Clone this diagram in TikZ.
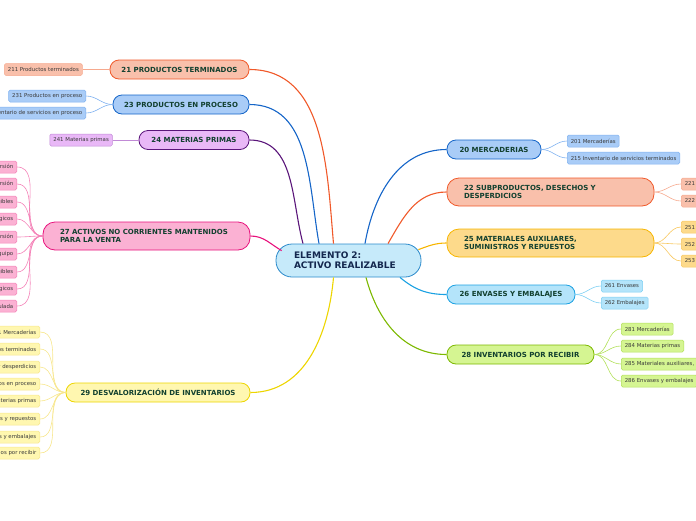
\documentclass[tikz,border=0pt]{standalone}
\usepackage{fontspec}
\setmainfont{DejaVu Sans}
\usepackage{tikz}
\usetikzlibrary{positioning}
\definecolor{centroB}{HTML}{2B8ACB}
\definecolor{centroF}{HTML}{C6EAFA}
\definecolor{naranja}{HTML}{F0592A}
\definecolor{naranjaF}{HTML}{F9C0AB}
\definecolor{naranjaL}{HTML}{F6A98E}
\definecolor{azul}{HTML}{1565C8}
\definecolor{azulF}{HTML}{A9CCF7}
\definecolor{azulL}{HTML}{80B2F0}
\definecolor{morado}{HTML}{5A157A}
\definecolor{moradoF}{HTML}{E9B8F7}
\definecolor{moradoL}{HTML}{C18AD6}
\definecolor{rosa}{HTML}{E8127C}
\definecolor{rosaF}{HTML}{FBB1D3}
\definecolor{rosaL}{HTML}{F483B8}
\definecolor{amarillo}{HTML}{EDD500}
\definecolor{amarilloF}{HTML}{FFF7B0}
\definecolor{amarilloL}{HTML}{F7E68C}
\definecolor{ambar}{HTML}{F7B500}
\definecolor{ambarF}{HTML}{FDDA8B}
\definecolor{ambarL}{HTML}{F8C860}
\definecolor{celeste}{HTML}{1BA1E2}
\definecolor{celesteF}{HTML}{B4E4FA}
\definecolor{celesteL}{HTML}{7CCFF3}
\definecolor{verde}{HTML}{7CB800}
\definecolor{verdeF}{HTML}{D5F592}
\definecolor{verdeL}{HTML}{B2E05A}
\definecolor{textoTema}{HTML}{12402F}
\definecolor{textoCentro}{HTML}{14284F}
\definecolor{textoSub}{HTML}{3A3A3A}

\begin{document}
\begin{tikzpicture}[
  x=1pt, y=1pt,
  central/.style={rectangle, rounded corners=16pt, draw=centroB, fill=centroF, line width=0.8pt, text width=109pt, inner xsep=18pt, minimum height=33pt, align=left, text=textoCentro, font=\fontsize{9}{10}\selectfont\bfseries},
  tema/.style={rectangle, rounded corners=9pt, draw=#1, fill=#1F, line width=0.8pt, minimum height=19pt, inner sep=1pt, text=textoTema, font=\fontsize{7}{8}\selectfont\bfseries},
  tema2/.style={tema=#1, rounded corners=12pt, minimum height=28pt, text width=173pt, inner xsep=17pt, align=left},
  subtema/.style={rectangle, rounded corners=1.5pt, draw=#1L, fill=#1F, line width=0.5pt, minimum height=12pt, inner xsep=3.5pt, inner ysep=0pt, text=textoSub, font=\fontsize{5.4}{6}\selectfont},
  rama/.style={draw=#1, line width=1.1pt},
  ramita/.style={draw=#1L, line width=0.6pt}
]
\useasboundingbox (0,0) rectangle (696,-520);
\clip (0,0) rectangle (696,-520);
% centro
\node[central] (centro) at (348.5,-260.5) {ELEMENTO 2:\\ACTIVO REALIZABLE};
% temas de la izquierda
\node[tema=naranja, minimum width=139pt] (t21) at (179.5,-69.5) {21 PRODUCTOS TERMINADOS};
\node[tema=azul, minimum width=136pt] (t23) at (181,-104.5) {23 PRODUCTOS EN PROCESO};
\node[tema=morado, minimum width=110pt] (t24) at (194,-140) {24 MATERIAS PRIMAS};
\node[tema2=rosa] (t27) at (146.5,-236) {27 ACTIVOS NO CORRIENTES MANTENIDOS\\PARA LA VENTA};
\node[tema=amarillo, minimum width=184pt] (t29) at (158,-392.5) {29 DESVALORIZACIÓN DE INVENTARIOS};
% temas de la derecha
\node[tema=azul, minimum width=94pt] (t20) at (494,-149.5) {20 MERCADERIAS};
\node[tema2=naranja] (t22) at (550.5,-192) {22 SUBPRODUCTOS, DESECHOS Y\\DESPERDICIOS};
\node[tema2=ambar] (t25) at (550.5,-243) {25 MATERIALES AUXILIARES,\\SUMINISTROS Y REPUESTOS};
\node[tema=celeste, minimum width=128pt] (t26) at (511,-294.5) {26 ENVASES Y EMBALAJES};
\node[tema=verde, minimum width=147pt] (t28) at (520.5,-354.5) {28 INVENTARIOS POR RECIBIR};
% subcuentas
\node[subtema=naranja, left=27pt of t21] (s211) {211 Productos terminados};
\node[subtema=azul, anchor=east] (s231) at (86,-96) {231 Productos en proceso};
\node[subtema=azul, anchor=east] (s234) at (86,-113) {234 Inventario de servicios en proceso};
\node[subtema=morado, left=26pt of t24] (s241) {241 Materias primas};
\node[subtema=rosa, anchor=east] (s271) at (17,-167) {271 Propiedades de inversión};
\node[subtema=rosa, anchor=east] (s272) at (17,-184) {272 Activos por derecho de uso - Propiedades de inversión};
\node[subtema=rosa, anchor=east] (s273) at (17,-202) {273 Intangibles};
\node[subtema=rosa, anchor=east] (s274) at (17,-219) {274 Activos biológicos};
\node[subtema=rosa, anchor=east] (s275) at (17,-237) {275 Depreciación acumulada - Propiedades de inversión};
\node[subtema=rosa, anchor=east] (s276) at (17,-254) {276 Depreciación acumulada - Propiedad, planta y equipo};
\node[subtema=rosa, anchor=east] (s277) at (17,-272) {277 Amortización acumulada - Intangibles};
\node[subtema=rosa, anchor=east] (s278) at (17,-289) {278 Depreciación acumulada - Activos biológicos};
\node[subtema=rosa, anchor=east] (s279) at (17,-306) {279 Desvalorización acumulada};
\node[subtema=amarillo, anchor=east] (s291) at (40,-332) {291 Mercaderías};
\node[subtema=amarillo, anchor=east] (s292) at (40,-349) {292 Productos terminados};
\node[subtema=amarillo, anchor=east] (s293) at (40,-367) {293 Subproductos, desechos y desperdicios};
\node[subtema=amarillo, anchor=east] (s294) at (40,-384) {294 Productos en proceso};
\node[subtema=amarillo, anchor=east] (s295) at (40,-401) {295 Materias primas};
\node[subtema=amarillo, anchor=east] (s296) at (40,-419) {296 Materiales auxiliares, suministros y repuestos};
\node[subtema=amarillo, anchor=east] (s297) at (40,-437) {297 Envases y embalajes};
\node[subtema=amarillo, anchor=east] (s298) at (40,-453) {298 Inventarios por recibir};
\node[subtema=azul, anchor=west] (s201) at (567,-141) {201 Mercaderías};
\node[subtema=azul, anchor=west] (s215) at (567,-158) {215 Inventario de servicios terminados};
\node[subtema=naranja, anchor=west] (s221) at (681,-184) {221 Subproductos};
\node[subtema=naranja, anchor=west] (s222) at (681,-201) {222 Desechos y desperdicios};
\node[subtema=ambar, anchor=west] (s251) at (681,-227) {251 Materiales auxiliares};
\node[subtema=ambar, anchor=west] (s252) at (681,-244) {252 Suministros};
\node[subtema=ambar, anchor=west] (s253) at (681,-261) {253 Repuestos};
\node[subtema=celeste, anchor=west] (s261) at (601,-286) {261 Envases};
\node[subtema=celeste, anchor=west] (s262) at (601,-303) {262 Embalajes};
\node[subtema=verde, anchor=west] (s281) at (621,-329) {281 Mercaderías};
\node[subtema=verde, anchor=west] (s284) at (621,-346) {284 Materias primas};
\node[subtema=verde, anchor=west] (s285) at (621,-364) {285 Materiales auxiliares, suministros y repuestos};
\node[subtema=verde, anchor=west] (s286) at (621,-381) {286 Envases y embalajes};
% ramas principales
\draw[rama=naranja] ([xshift=-15pt]centro.north) to[out=95,in=0] (t21.east);
\draw[rama=azul] ([xshift=-29.5pt]centro.north) to[out=100,in=0] (t23.east);
\draw[rama=morado] ([xshift=-45.5pt]centro.north) to[out=105,in=0] (t24.east);
\draw[rama=rosa] ([xshift=6pt,yshift=-7pt]centro.north west) to[out=150,in=0] (t27.east);
\draw[rama=amarillo] ([xshift=-15pt]centro.south) to[out=-95,in=0] (t29.east);
\draw[rama=azul] ([xshift=16.5pt]centro.north) to[out=80,in=180] (t20.west);
\draw[rama=naranja] ([xshift=39.5pt]centro.north) to[out=60,in=180] (t22.west);
\draw[rama=ambar] ([xshift=-3pt,yshift=-6pt]centro.north east) to[out=20,in=180] (t25.west);
\draw[rama=celeste] ([xshift=51.5pt]centro.south) to[out=-40,in=180] (t26.west);
\draw[rama=verde] ([xshift=17.5pt]centro.south) to[out=-75,in=180] (t28.west);
% ramas secundarias
\draw[ramita=naranja] (t21.west) -- (s211.east);
\draw[ramita=azul] (t23.west) to[out=180,in=0] (s231.east);
\draw[ramita=azul] (t23.west) to[out=180,in=0] (s234.east);
\draw[ramita=morado] (t24.west) -- (s241.east);
\draw[ramita=rosa] (t27.west) to[out=180,in=0] (s271.east);
\draw[ramita=rosa] (t27.west) to[out=180,in=0] (s272.east);
\draw[ramita=rosa] (t27.west) to[out=180,in=0] (s273.east);
\draw[ramita=rosa] (t27.west) to[out=180,in=0] (s274.east);
\draw[ramita=rosa] (t27.west) to[out=180,in=0] (s275.east);
\draw[ramita=rosa] (t27.west) to[out=180,in=0] (s276.east);
\draw[ramita=rosa] (t27.west) to[out=180,in=0] (s277.east);
\draw[ramita=rosa] (t27.west) to[out=180,in=0] (s278.east);
\draw[ramita=rosa] (t27.west) to[out=180,in=0] (s279.east);
\draw[ramita=amarillo] (t29.west) to[out=180,in=0] (s291.east);
\draw[ramita=amarillo] (t29.west) to[out=180,in=0] (s292.east);
\draw[ramita=amarillo] (t29.west) to[out=180,in=0] (s293.east);
\draw[ramita=amarillo] (t29.west) to[out=180,in=0] (s294.east);
\draw[ramita=amarillo] (t29.west) to[out=180,in=0] (s295.east);
\draw[ramita=amarillo] (t29.west) to[out=180,in=0] (s296.east);
\draw[ramita=amarillo] (t29.west) to[out=180,in=0] (s297.east);
\draw[ramita=amarillo] (t29.west) to[out=180,in=0] (s298.east);
\draw[ramita=azul] (t20.east) to[out=0,in=180] (s201.west);
\draw[ramita=azul] (t20.east) to[out=0,in=180] (s215.west);
\draw[ramita=naranja] (t22.east) to[out=0,in=180] (s221.west);
\draw[ramita=naranja] (t22.east) to[out=0,in=180] (s222.west);
\draw[ramita=ambar] (t25.east) to[out=0,in=180] (s251.west);
\draw[ramita=ambar] (t25.east) to[out=0,in=180] (s252.west);
\draw[ramita=ambar] (t25.east) to[out=0,in=180] (s253.west);
\draw[ramita=celeste] (t26.east) to[out=0,in=180] (s261.west);
\draw[ramita=celeste] (t26.east) to[out=0,in=180] (s262.west);
\draw[ramita=verde] (t28.east) to[out=0,in=180] (s281.west);
\draw[ramita=verde] (t28.east) to[out=0,in=180] (s284.west);
\draw[ramita=verde] (t28.east) to[out=0,in=180] (s285.west);
\draw[ramita=verde] (t28.east) to[out=0,in=180] (s286.west);
\end{tikzpicture}
\end{document}
